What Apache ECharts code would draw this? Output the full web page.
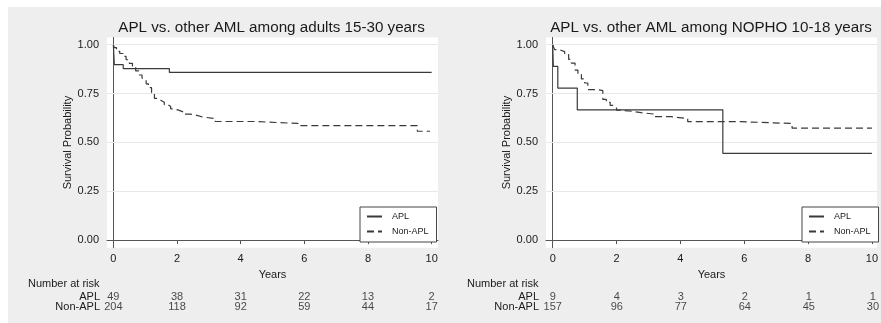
<!DOCTYPE html>
<html><head><meta charset="utf-8">
<script src="https://cdn.jsdelivr.net/npm/echarts@6/dist/echarts.min.js"></script>
<style>
html,body{margin:0;padding:0;background:#fff}
#c{width:881px;height:323px;background:linear-gradient(#eeeeee,#eeeeee) 8px 7px/873px 316px no-repeat,#fff}
</style>
</head><body><div id="c"></div>
<script>
// ---------- data ----------
const panelTitles = ['APL vs. other AML among adults 15-30 years', 'APL vs. other AML among NOPHO 10-18 years'];
const groups = ['APL', 'Non-APL'];
const yTicks = [0, 0.25, 0.5, 0.75, 1];
const gridValues = [0.25, 0.5, 0.75, 1];
const xTicks = [0, 2, 4, 6, 8, 10];
const riskTimes = [0, 2, 4, 6, 8, 10];

// Left panel: adults 15-30 years
const adultsAPL = [[0,1],[0.03,0.898],[0.31,0.878],[1.76,0.858],[10,0.858]];
const adultsNonAPL = [[0,1],[0.03,0.985],[0.1,0.966],[0.2,0.955],[0.3,0.94],[0.4,0.923],[0.5,0.905],[0.6,0.885],[0.7,0.866],[0.8,0.845],[0.9,0.83],[0.95,0.82],[1.03,0.8],[1.1,0.78],[1.2,0.755],[1.29,0.725],[1.4,0.715],[1.5,0.705],[1.6,0.693],[1.7,0.685],[1.8,0.672],[1.9,0.665],[2.05,0.656],[2.2,0.645],[2.4,0.64],[2.6,0.63],[2.8,0.622],[3.2,0.607],[4.45,0.597],[5.8,0.586],[9.55,0.557],[9.95,0.557]];
const adultsRiskAPL = [49, 38, 31, 22, 13, 2];
const adultsRiskNonAPL = [204, 118, 92, 59, 44, 17];

// Right panel: NOPHO 10-18 years
const nophoAPL = [[0,1],[0.02,0.889],[0.16,0.778],[0.77,0.667],[5.33,0.444],[10,0.444]];
const nophoNonAPL = [[0,1],[0.06,0.975],[0.2,0.965],[0.375,0.949],[0.5,0.925],[0.58,0.906],[0.7,0.87],[0.79,0.847],[0.9,0.825],[1.0,0.804],[1.1,0.77],[1.42,0.765],[1.57,0.72],[1.68,0.705],[1.8,0.69],[1.89,0.68],[2.0,0.665],[2.15,0.659],[2.5,0.652],[2.77,0.645],[3.19,0.632],[3.71,0.622],[4.23,0.606],[5.9,0.597],[7.5,0.573],[10,0.573]];
const nophoRiskAPL = [9, 4, 3, 2, 1, 1];
const nophoRiskNonAPL = [157, 96, 77, 64, 45, 30];

// ---------- layout ----------
const panels = [
  {left:107, width:331, xmin:-0.2, xmax:10.2, curves:[adultsAPL, adultsNonAPL], risk:[adultsRiskAPL, adultsRiskNonAPL], nrLeft:28},
  {left:546, width:332, xmin:-0.21, xmax:10.16, curves:[nophoAPL, nophoNonAPL], risk:[nophoRiskAPL, nophoRiskNonAPL], nrLeft:467}
];
const TOP = 37.5, HEIGHT = 210.2, YMIN = -0.039, YMAX = 1.037;
const FONT = '"Liberation Sans", Arial, Helvetica, sans-serif';
const TXT = '#1a1a1a';
const LINE = '#3a3a3a';

const option = {
  animation:false,
  backgroundColor:'transparent',
  textStyle:{fontFamily:FONT},
  title: [], grid: [], xAxis: [], yAxis: [], series: [], legend: [], graphic: []
};

panels.forEach((p, i) => {
  option.title.push({
    text: panelTitles[i], left: p.left + p.width/2 - 1, top: 20, textAlign:'center', padding:0,
    textStyle:{fontSize:15.2, fontWeight:'normal', color:TXT, fontFamily:FONT}
  });
  option.grid.push({left:p.left, top:TOP, width:p.width, height:HEIGHT, show:true, backgroundColor:'#fff', borderWidth:0, containLabel:false});
  option.grid.push({left:p.left, top:292, width:p.width, height:20, show:false, containLabel:false});
  const gMain = i*2, gRisk = i*2+1;
  option.xAxis.push({
    gridIndex:gMain, type:'value', min:p.xmin, max:p.xmax,
    name:'Years', nameLocation:'middle', nameGap:17,
    nameTextStyle:{fontSize:11, color:TXT, fontFamily:FONT},
    axisLine:{show:true, lineStyle:{color:'#555', width:1}},
    axisTick:{show:true, length:4, inside:false, customValues:xTicks, lineStyle:{color:'#555'}},
    axisLabel:{show:true, customValues:xTicks, fontSize:11, color:TXT, margin:6, fontFamily:FONT},
    splitLine:{show:false}
  });
  option.xAxis.push({gridIndex:gRisk, type:'value', min:p.xmin, max:p.xmax, show:false});
  option.yAxis.push({
    gridIndex:gMain, type:'value', min:YMIN, max:YMAX,
    name:'Survival Probability', nameLocation:'middle', nameGap:34, nameRotate:90,
    nameTextStyle:{fontSize:11, color:TXT, fontFamily:FONT},
    axisLine:{show:true, lineStyle:{color:'#555', width:1}},
    axisTick:{show:true, length:4, inside:false, customValues:yTicks, lineStyle:{color:'#555'}},
    axisLabel:{show:true, customValues:yTicks, fontSize:11, color:TXT, margin:8, fontFamily:FONT,
               formatter:v => Number(v).toFixed(2)},
    splitLine:{show:false}
  });
  option.yAxis.push({
    gridIndex:gRisk, type:'category', data:groups, inverse:true,
    axisLine:{show:false}, axisTick:{show:false}, splitLine:{show:false},
    axisLabel:{interval:0, fontSize:11, color:TXT, margin:7, fontFamily:FONT}
  });
  const xMain = i*2, xRisk = i*2+1;
  p.curves.forEach((d, k) => {
    const s = {
      name:groups[k], type:'line', xAxisIndex:xMain, yAxisIndex:xMain, data:d, step:'end',
      symbol:'none', showSymbol:false, z:5,
      lineStyle:{color:LINE, width:1.2, type: k === 0 ? 'solid' : [7,4]},
      itemStyle:{color:LINE}
    };
    if (k === 0) {
      s.markLine = {silent:true, symbol:'none', label:{show:false}, animation:false, z:1,
        lineStyle:{color:'#e8e8e8', width:1, type:'solid'},
        data: gridValues.map(v => ({yAxis:v}))};
    }
    option.series.push(s);
  });
  groups.forEach((g, k) => {
    option.series.push({
      type:'scatter', xAxisIndex:xRisk, yAxisIndex:xRisk, symbolSize:1,
      itemStyle:{color:'rgba(0,0,0,0)'}, silent:true,
      data: riskTimes.map((t, j) => [t, g, p.risk[k][j]]),
      label:{show:true, position:'inside', fontSize:11, color:TXT, fontFamily:FONT,
             formatter: q => String(q.value[2])}
    });
  });
  option.legend.push({
    data: groups.map(g => ({name:g})),
    orient:'vertical', left: i === 0 ? 360 : 802, top:207,
    backgroundColor:'#fff', borderColor:'#444', borderWidth:1, borderRadius:0,
    padding:[5,8,6,6], itemGap:6, itemWidth:15, itemHeight:10,
    itemStyle:{opacity:0},
    textStyle:{fontSize:9, color:TXT, fontFamily:FONT, padding:[0,0,0,5]},
    selectedMode:false
  });
  option.graphic.push({
    type:'text', left:p.nrLeft, top:278,
    style:{text:'Number at risk', fontSize:11, fill:TXT, fontFamily:FONT}
  });
});

const chart = echarts.init(document.getElementById('c'), null, {renderer:'canvas'});
chart.setOption(option);
</script>
</body></html>
